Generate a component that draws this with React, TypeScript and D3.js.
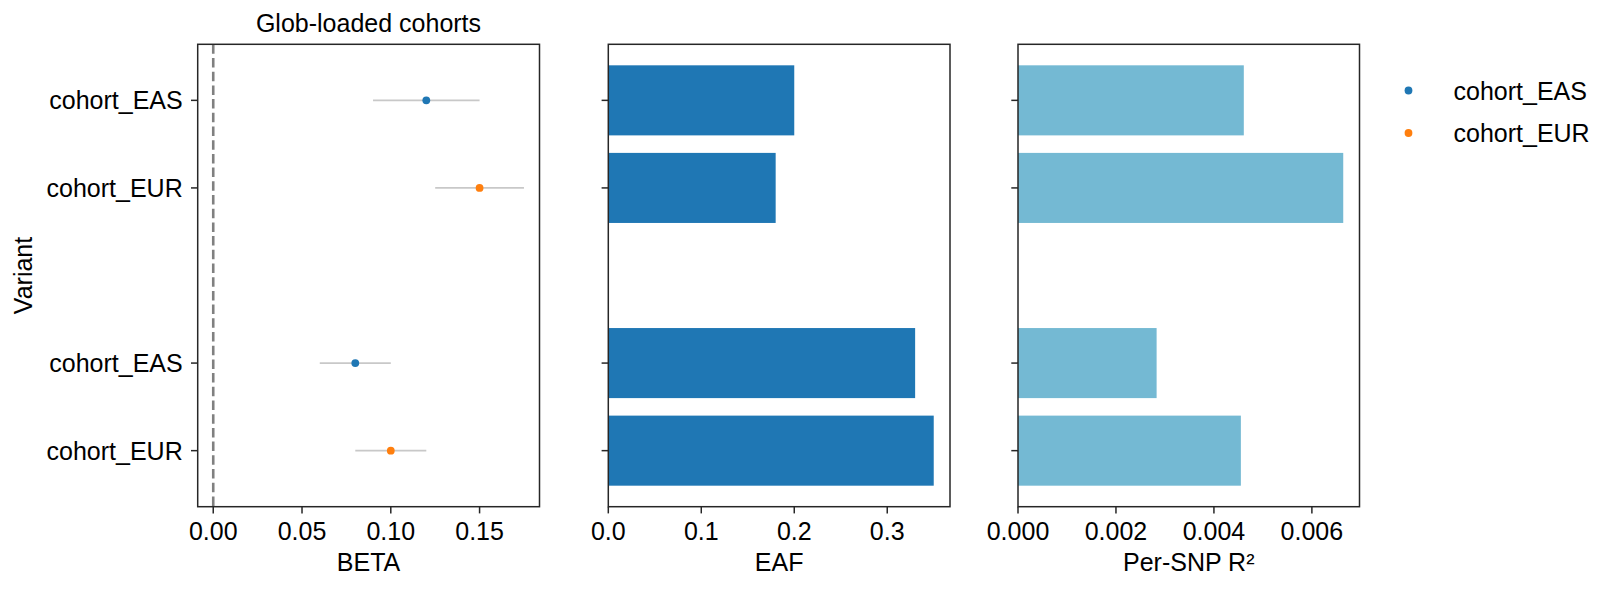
import { useMemo } from "react"
import * as d3 from "d3"

// --- data --------------------------------------------------------------
const variants = ["cohort_EAS", "cohort_EUR", "cohort_EAS", "cohort_EUR"]
const rowPos = [0, 1, 3, 4]
const cohorts = ["cohort_EAS", "cohort_EUR", "cohort_EAS", "cohort_EUR"]
const beta = [0.12, 0.15, 0.08, 0.1]
const betaErr = [0.03, 0.025, 0.02, 0.02]
const eaf = [0.2, 0.18, 0.33, 0.35]
const r2 = [0.00461, 0.00664, 0.00283, 0.00455]

const legendItems = ["cohort_EAS", "cohort_EUR"]
const betaTicks = [0, 0.05, 0.1, 0.15]
const eafTicks = [0, 0.1, 0.2, 0.3]
const r2Ticks = [0, 0.002, 0.004, 0.006]

const COHORT_COLOR: Record<string, string> = {
  cohort_EAS: "#1f77b4",
  cohort_EUR: "#ff7f0e",
}

const W = 1614
const H = 591
const TOP = 44.3
const BOTTOM = 506.7
const FONT = "'Liberation Sans', Arial, Helvetica, sans-serif"
const FS = 25
const INK = "#262626"

interface PanelProps {
  x0: number
  x1: number
  domain: [number, number]
  ticks: number[]
  fmt: (n: number) => string
  label: string
  showYLabels?: boolean
  children: (x: d3.ScaleLinear<number, number>) => React.ReactNode
}

function Panel({ x0, x1, domain, ticks, fmt, label, showYLabels, children }: PanelProps) {
  const x = useMemo(() => d3.scaleLinear().domain(domain).range([x0, x1]), [x0, x1, domain])
  return (
    <g>
      {children(x)}
      <rect
        x={x0}
        y={TOP}
        width={x1 - x0}
        height={BOTTOM - TOP}
        fill="none"
        stroke={INK}
        strokeWidth={1.5}
      />
      {/* x ticks */}
      {ticks.map((t) => (
        <g key={t}>
          <line x1={x(t)} x2={x(t)} y1={BOTTOM} y2={BOTTOM + 6.7} stroke={INK} strokeWidth={1.5} />
          <text x={x(t)} y={540} textAnchor="middle" fontSize={FS} fill="#000">
            {fmt(t)}
          </text>
        </g>
      ))}
      <text x={(x0 + x1) / 2} y={571} textAnchor="middle" fontSize={FS} fill="#000">
        {label}
      </text>
      {/* y ticks (shared) */}
      {rowPos.map((p, i) => (
        <g key={i}>
          <line x1={x0 - 6.7} x2={x0} y1={yScale(p)} y2={yScale(p)} stroke={INK} strokeWidth={1.5} />
          {showYLabels && (
            <text x={x0 - 15} y={yScale(p)} dy="0.36em" textAnchor="end" fontSize={FS} fill="#000">
              {variants[i]}
            </text>
          )}
        </g>
      ))}
    </g>
  )
}

// rows: bars are 0.8 tall, plus matplotlib's 5% margin
const yScale = d3.scaleLinear().domain([-0.64, 4.64]).range([TOP, BOTTOM])
const BAR_H = 0.8

export default function App() {
  const betaMax = d3.max(beta.map((b, i) => b + betaErr[i])) ?? 0.175
  const betaDomain: [number, number] = [-0.05 * betaMax, betaMax * 1.05]
  const eafDomain: [number, number] = [0, (d3.max(eaf) ?? 0.35) * 1.05]
  const r2Domain: [number, number] = [0, (d3.max(r2) ?? 0.0066) * 1.05]
  const barTop = (p: number) => yScale(p - BAR_H / 2)
  const barH = yScale(BAR_H) - yScale(0)

  return (
    <div style={{ position: "absolute", left: 0, top: 0 }}>
      <svg width={W} height={H} style={{ display: "block", fontFamily: FONT, background: "#fff" }}>
        <text x={368.5} y={32} textAnchor="middle" fontSize={FS} fill="#000">
          Glob-loaded cohorts
        </text>
        <text
          transform={`translate(23,${(TOP + BOTTOM) / 2}) rotate(-90)`}
          dy="0.36em"
          textAnchor="middle"
          fontSize={FS}
          fill="#000"
        >
          Variant
        </text>

        <Panel
          x0={197.7}
          x1={539.5}
          domain={betaDomain}
          ticks={betaTicks}
          fmt={d3.format(".2f")}
          label="BETA"
          showYLabels
        >
          {(x) => (
            <g>
              <line
                x1={x(0)}
                x2={x(0)}
                y1={TOP}
                y2={BOTTOM}
                stroke="#808080"
                strokeWidth={2.6}
                strokeDasharray="9.5,4.2"
              />
              {rowPos.map((p, i) => (
                <g key={i}>
                  <line
                    x1={x(beta[i] - betaErr[i])}
                    x2={x(beta[i] + betaErr[i])}
                    y1={yScale(p)}
                    y2={yScale(p)}
                    stroke="#c8c8c8"
                    strokeWidth={1.7}
                  />
                  <circle cx={x(beta[i])} cy={yScale(p)} r={3.9} fill={COHORT_COLOR[cohorts[i]]} />
                </g>
              ))}
            </g>
          )}
        </Panel>

        <Panel
          x0={608.3}
          x1={950}
          domain={eafDomain}
          ticks={eafTicks}
          fmt={d3.format(".1f")}
          label="EAF"
        >
          {(x) =>
            rowPos.map((p, i) => (
              <rect
                key={i}
                x={x(0)}
                y={barTop(p)}
                width={x(eaf[i]) - x(0)}
                height={barH}
                fill="#1f77b4"
              />
            ))
          }
        </Panel>

        <Panel
          x0={1018}
          x1={1359.5}
          domain={r2Domain}
          ticks={r2Ticks}
          fmt={d3.format(".3f")}
          label="Per-SNP R²"
        >
          {(x) =>
            rowPos.map((p, i) => (
              <rect
                key={i}
                x={x(0)}
                y={barTop(p)}
                width={x(r2[i]) - x(0)}
                height={barH}
                fill="#74b9d3"
              />
            ))
          }
        </Panel>

        {/* legend, no frame */}
        {legendItems.map((c, i) => (
          <g key={c} transform={`translate(0,${90.5 + i * 42.5})`}>
            <circle cx={1408.5} cy={0} r={3.9} fill={COHORT_COLOR[c]} />
            <text x={1453.5} y={0} dy="0.36em" fontSize={FS} fill="#000">
              {c}
            </text>
          </g>
        ))}
      </svg>
    </div>
  )
}
